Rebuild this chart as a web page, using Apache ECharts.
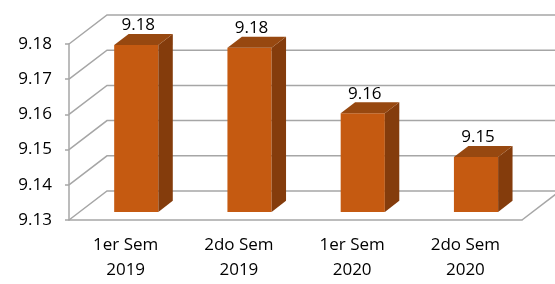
<!DOCTYPE html>
<html>
<head>
<meta charset="utf-8">
<script src="https://cdn.jsdelivr.net/npm/echarts@6/dist/echarts.min.js"></script>
<style>
  html, body { margin: 0; padding: 0; background: #fff; }
  #chart { width: 555px; height: 284px; }
</style>
</head>
<body>
<div id="chart"></div>
<script>
// datos del grafico
var categorias = ['1er Sem\n2019', '2do Sem\n2019', '1er Sem\n2020', '2do Sem\n2020'];
var promedios = [9.1774, 9.1766, 9.158, 9.1456];
var ticksY = [9.13, 9.14, 9.15, 9.16, 9.17, 9.18];

// perspectiva de la caja 3D (pixeles)
var PROF_X = 38, PROF_Y = -29;
var BAR_Z0 = 0.28, BAR_Z1 = 0.66;
var GRIS = '#a6a6a6';

var myChart = echarts.init(document.getElementById('chart'));

// paredes y piso en perspectiva
function dibujarPared(params, api) {
  var cs = params.coordSys;
  var v = api.value(1);
  var y = api.coord([0, v])[1];
  var x0 = cs.x, x1 = cs.x + cs.width;
  var hijos = [{
    type: 'polyline',
    shape: { points: [[x0, y], [x0 + PROF_X, y + PROF_Y], [x1 + PROF_X + 10, y + PROF_Y]] },
    style: { stroke: GRIS, lineWidth: 1.5, fill: null }
  }];
  if (params.dataIndex === 0) {
    hijos.push({
      type: 'line',
      shape: { x1: x1, y1: y, x2: x1 + PROF_X, y2: y + PROF_Y },
      style: { stroke: GRIS, lineWidth: 1.5 }
    });
  }
  return { type: 'group', children: hijos };
}

// barras 3D
function dibujarBarra(params, api) {
  var i = api.value(0);
  var v = api.value(1);
  var tope = api.coord([i, v]);
  var base = api.coord([i, ticksY[0]]);
  var banda = api.size([1, 0])[0];
  var w = banda * 0.39;
  var ox = BAR_Z0 * PROF_X, oy = BAR_Z0 * PROF_Y;
  var dx = (BAR_Z1 - BAR_Z0) * PROF_X, dy = (BAR_Z1 - BAR_Z0) * PROF_Y;
  var xl = tope[0] + ox - w / 2, xr = tope[0] + ox + w / 2;
  var yt = tope[1] + oy, yb = base[1] + oy;
  return {
    type: 'group',
    children: [
      { type: 'rect', shape: { x: xl, y: yt, width: w, height: yb - yt },
        style: { fill: '#c55a11' } },
      { type: 'polygon',
        shape: { points: [[xr, yt], [xr + dx, yt + dy], [xr + dx, yb + dy], [xr, yb]] },
        style: { fill: '#843c0c' } },
      { type: 'polygon',
        shape: { points: [[xl, yt], [xr, yt], [xr + dx, yt + dy], [xl + dx, yt + dy]] },
        style: { fill: '#974810' } },
      { type: 'text',
        style: {
          x: (xl + xr) / 2 + 2, y: yt + dy,
          text: v.toFixed(2), fill: '#000',
          font: '17px "Open Sans"', align: 'center', verticalAlign: 'bottom'
        } }
    ]
  };
}

var option = {
  animation: false,
  grid: { left: 69, right: 33, top: 44, bottom: 64 },
  xAxis: {
    type: 'category',
    data: categorias,
    axisLine: { lineStyle: { color: GRIS, width: 1.5 } },
    axisTick: { lineStyle: { color: GRIS, width: 1.5 }, length: 5 },
    axisLabel: { color: '#000', fontSize: 17, fontFamily: 'Open Sans', lineHeight: 25, margin: 13 }
  },
  yAxis: {
    type: 'value',
    min: 9.13,
    max: 9.18,
    interval: 0.01,
    axisLine: { show: true, lineStyle: { color: GRIS, width: 1.5 } },
    axisTick: { show: true, length: 4, lineStyle: { color: GRIS, width: 1.5 } },
    splitLine: { show: false },
    axisLabel: {
      color: '#000', fontSize: 17, fontFamily: 'Open Sans', margin: 17,
      formatter: function (v) { return v.toFixed(2); }
    }
  },
  series: [
    {
      type: 'custom',
      clip: false,
      silent: true,
      renderItem: dibujarPared,
      data: ticksY.map(function (t) { return [0, t]; }),
      z: 1
    },
    {
      type: 'custom',
      clip: false,
      renderItem: dibujarBarra,
      data: promedios.map(function (v, i) { return [i, v]; }),
      z: 2
    }
  ]
};

myChart.setOption(option);
</script>
</body>
</html>
